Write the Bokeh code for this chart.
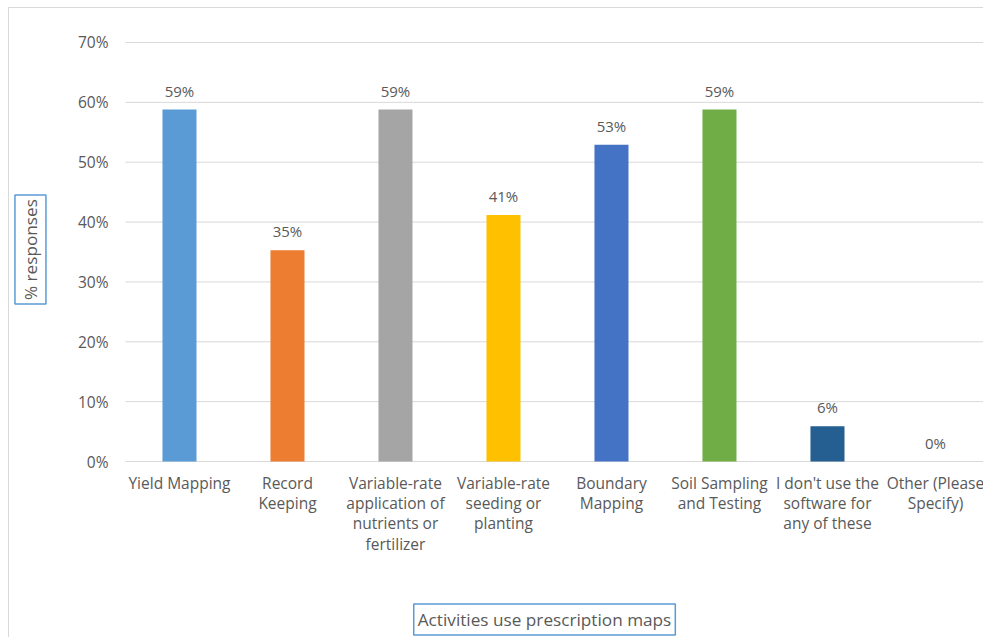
import numpy as np
from bokeh.plotting import figure
from bokeh.models import ColumnDataSource, Range1d, Label
from bokeh.core.properties import value
from bokeh.embed import file_html
from bokeh.resources import INLINE

categories = [
    "Yield Mapping",
    "Record\nKeeping",
    "Variable-rate\napplication of\nnutrients or\nfertilizer",
    "Variable-rate\nseeding or\nplanting",
    "Boundary\nMapping",
    "Soil Sampling\nand Testing",
    "I don't use the\nsoftware for\nany of these",
    "Other (Please\nSpecify)",
]
percent_values = [58.8, 35.3, 58.8, 41.2, 52.9, 58.8, 5.9, 0.0]
bar_colors = ["#5B9BD5", "#ED7D31", "#A5A5A5", "#FFC000", "#4472C4", "#70AD47", "#255E91", "#9E480E"]
y_ticks = [0.0, 0.1, 0.2, 0.3, 0.4, 0.5, 0.6, 0.7]
y_tick_labels = ["0%", "10%", "20%", "30%", "40%", "50%", "60%", "70%"]
x_title = "Activities use prescription maps"
y_title = "% responses"

FONT = "Open Sans"
TXT = "#595959"
GRID = "#d9d9d9"

pos = np.arange(len(categories)) + 0.5
vals = np.array(percent_values) / 100.0
src = ColumnDataSource(dict(
    x=pos, top=vals, color=bar_colors,
    label=[f"{round(v)}%" for v in percent_values],
    cat=categories, zero=np.zeros(len(categories)),
))

# plot area occupies the whole canvas; axis texts are drawn through the same scales
X0, X1 = -1.074, 7.954
Y0, Y1 = -0.2957, 0.7568
p = figure(width=975, height=630, output_backend="svg", toolbar_location=None,
           x_range=Range1d(X0, X1), y_range=Range1d(Y0, Y1),
           min_border=0, min_border_left=0, min_border_right=0,
           min_border_top=0, min_border_bottom=0)
p.margin = (7, 0, 0, 8)
p.styles = {"border-left": "1px solid #d9d9d9", "border-top": "1px solid #d9d9d9"}
p.outline_line_color = None
p.background_fill_color = "white"
p.border_fill_color = "white"
p.xaxis.visible = False
p.yaxis.visible = False
p.grid.visible = False

# horizontal grid lines (value axis)
gsrc = ColumnDataSource(dict(y=y_ticks, x0=[0.0] * len(y_ticks), x1=[X1 + 1] * len(y_ticks),
                             lab=y_tick_labels))
p.segment(x0="x0", x1="x1", y0="y", y1="y", source=gsrc, line_color=GRID, line_width=1)
p.text(x="x0", y="y", text="lab", source=gsrc, text_align="right", text_baseline="middle",
       x_offset=-17, text_font=value(FONT), text_font_size="15.5px", text_color=TXT)

# bars and value labels
p.vbar(x="x", top="top", bottom=0, width=0.315, fill_color="color", line_color=None, source=src)
p.text(x="x", y="top", text="label", source=src, text_align="center", text_baseline="bottom",
       y_offset=-9, text_font=value(FONT), text_font_size="15px", text_color=TXT)

# category labels
p.text(x="x", y="zero", text="cat", source=src, text_align="center", text_baseline="top",
       y_offset=10, text_font=value(FONT), text_font_size="15.5px", text_color=TXT,
       text_line_height=0.93)

# axis titles in boxes
p.add_layout(Label(x=3.880, y=-0.264, text=x_title, text_align="center", text_baseline="middle",
                   text_font=FONT, text_font_size="17.2px", text_color=TXT, padding=4,
                   border_line_color="#5B9BD5", border_line_width=1.5,
                   background_fill_color="white"))
p.add_layout(Label(x=-0.880, y=0.354, text=y_title, angle=np.pi / 2,
                   text_align="center", text_baseline="middle",
                   text_font=FONT, text_font_size="17.2px", text_color=TXT, padding=4,
                   border_line_color="#5B9BD5", border_line_width=1.5,
                   background_fill_color="white"))

open("out.html", "w").write(file_html(p, INLINE))
